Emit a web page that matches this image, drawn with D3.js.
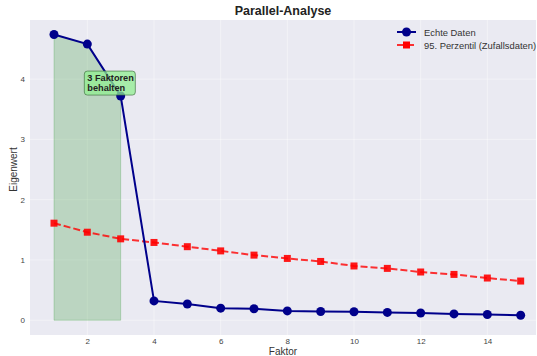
<!DOCTYPE html>
<html><head><meta charset="utf-8">
<script src="https://cdn.jsdelivr.net/npm/d3@7"></script>
<style>body{margin:0;background:#fff}svg{display:block}text{font-family:"Liberation Sans",Arial,sans-serif}</style>
</head><body>
<script>
const factors = [1,2,3,4,5,6,7,8,9,10,11,12,13,14,15];
const realEigen = [4.74,4.58,3.72,0.32,0.27,0.20,0.19,0.155,0.145,0.14,0.13,0.12,0.105,0.095,0.083];
const randomP95 = [1.61,1.46,1.35,1.29,1.22,1.15,1.08,1.025,0.975,0.90,0.86,0.80,0.76,0.70,0.65];
const xTicks = [2,4,6,8,10,12,14];
const yTicks = [0,1,2,3,4];
const nKeep = 3;
const titleText = "Parallel-Analyse";
const xLabel = "Faktor", yLabel = "Eigenwert";
const seriesNames = ["Echte Daten","95. Perzentil (Zufallsdaten)"];
const annText = ["3 Faktoren","behalten"];

const W=537,H=356;
const m={l:30,r:1,t:20,b:21};
const FONT="Liberation Sans, Arial, sans-serif";
const svg=d3.select("body").append("svg").attr("width",W).attr("height",H);
const x=d3.scaleLinear().domain([0.28,15.46]).range([m.l,W-m.r]);
const y=d3.scaleLinear().domain([-0.245,4.98]).range([H-m.b,m.t]);

svg.append("rect").attr("x",m.l).attr("y",m.t).attr("width",W-m.r-m.l).attr("height",H-m.b-m.t).attr("fill","#EAEAF2");
const g=svg.append("g");
xTicks.forEach(t=>g.append("line").attr("x1",x(t)).attr("x2",x(t)).attr("y1",m.t).attr("y2",H-m.b).attr("stroke","#fff").attr("stroke-width",0.8).attr("opacity",0.5));
yTicks.forEach(t=>g.append("line").attr("y1",y(t)).attr("y2",y(t)).attr("x1",m.l).attr("x2",W-m.r).attr("stroke","#fff").attr("stroke-width",0.8).attr("opacity",0.5));

// axes
const xa=svg.append("g").attr("transform",`translate(0,${H-m.b})`).call(d3.axisBottom(x).tickValues(xTicks).tickSize(0).tickPadding(3).tickFormat(d3.format("d")));
const ya=svg.append("g").attr("transform",`translate(${m.l},0)`).call(d3.axisLeft(y).tickValues(yTicks).tickSize(0).tickPadding(5).tickFormat(d3.format("d")));
[xa,ya].forEach(a=>{a.select(".domain").remove();a.selectAll("text").attr("font-size",8).attr("fill","#444").attr("font-family",FONT);});

// fill
const keep=factors.slice(0,nKeep).map((f,i)=>({f,v:realEigen[i]}));
svg.append("path").datum(keep).attr("d",d3.area().x(d=>x(d.f)).y0(y(0)).y1(d=>y(d.v)))
 .attr("fill","green").attr("fill-opacity",0.2).attr("stroke","green").attr("stroke-opacity",0.2).attr("stroke-width",1);

// random line
const rd=factors.map((f,i)=>({f,v:randomP95[i]}));
svg.append("path").datum(rd).attr("d",d3.line().x(d=>x(d.f)).y(d=>y(d.v))).attr("fill","none")
 .attr("stroke","#ff0000").attr("stroke-opacity",0.8).attr("stroke-width",2).attr("stroke-dasharray","7,3");
svg.selectAll(".sq").data(rd).enter().append("rect").attr("x",d=>x(d.f)-3.5).attr("y",d=>y(d.v)-3.5).attr("width",7).attr("height",7)
 .attr("fill","#ff0000").attr("fill-opacity",0.9);

// real line
const re=factors.map((f,i)=>({f,v:realEigen[i]}));
svg.append("path").datum(re).attr("d",d3.line().x(d=>x(d.f)).y(d=>y(d.v))).attr("fill","none")
 .attr("stroke","#00008B").attr("stroke-width",2);
svg.selectAll(".ci").data(re).enter().append("circle").attr("cx",d=>x(d.f)).attr("cy",d=>y(d.v)).attr("r",4.5).attr("fill","#00008B");

// annotation
const ax=x(2), ay=y(4.0);
const ag=svg.append("g");
ag.append("rect").attr("x",ax-3).attr("y",ay-8).attr("width",51).attr("height",24).attr("rx",3)
 .attr("fill","#90EE90").attr("fill-opacity",0.75).attr("stroke","#3a6b3a").attr("stroke-opacity",0.8).attr("stroke-width",0.8);
annText.forEach((t,i)=>ag.append("text").attr("x",ax).attr("y",ay+2+i*9.5).attr("font-size",9.2).attr("font-weight","bold").attr("fill","#222").text(t));

// title and labels
svg.append("text").attr("x",283).attr("y",15).attr("text-anchor","middle").attr("font-size",12.5).attr("font-weight","bold").attr("fill","#222").text(titleText);
svg.append("text").attr("x",283).attr("y",355).attr("text-anchor","middle").attr("font-size",10).attr("fill","#333").text(xLabel);
svg.append("text").attr("transform",`translate(17,${y(2.5)}) rotate(-90)`).attr("text-anchor","middle").attr("font-size",10).attr("fill","#333").text(yLabel);

// legend
const lg=svg.append("g");
const lx=397, ly=[32,45];
lg.append("line").attr("x1",lx).attr("x2",lx+19).attr("y1",ly[0]).attr("y2",ly[0]).attr("stroke","#00008B").attr("stroke-width",2);
lg.append("circle").attr("cx",lx+9.5).attr("cy",ly[0]).attr("r",4.5).attr("fill","#00008B");
lg.append("line").attr("x1",lx).attr("x2",lx+19).attr("y1",ly[1]).attr("y2",ly[1]).attr("stroke","#ff0000").attr("stroke-opacity",0.8).attr("stroke-width",2).attr("stroke-dasharray","7,3");
lg.append("rect").attr("x",lx+6).attr("y",ly[1]-3.5).attr("width",7).attr("height",7).attr("fill","#ff0000");
seriesNames.forEach((s,i)=>lg.append("text").attr("x",lx+27).attr("y",ly[i]+3.5).attr("font-size",9.4).attr("fill","#333").text(s));
</script>
</body></html>
